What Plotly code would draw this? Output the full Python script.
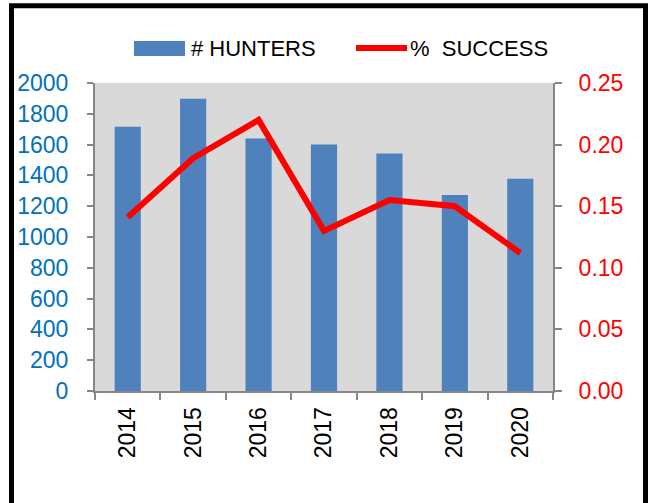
import plotly.graph_objects as go

years = ["2014", "2015", "2016", "2017", "2018", "2019", "2020"]
hunters = [1716, 1897, 1640, 1600, 1542, 1272, 1378]
success = [0.141, 0.189, 0.220, 0.130, 0.155, 0.150, 0.112]
legend_names = ["# HUNTERS", "%  SUCCESS"]

W, H = 648, 503
L, R, T, B = 95, 95, 83, 112
pw, ph = W - L - R, H - T - B

def px2x(px):
    return (px - L) / pw

def py2y(py):
    return (H - B - py) / ph

FONT = "Liberation Sans, Arial, sans-serif"
AXC = "#868686"
BAR_C = "#4F81BD"
LINE_C = "#FF0000"

fig = go.Figure()
fig.add_trace(go.Bar(
    x=years, y=hunters, name=legend_names[0],
    marker=dict(color=BAR_C, line=dict(width=0)),
    yaxis="y", showlegend=False,
))
fig.add_trace(go.Scatter(
    x=years, y=success, name=legend_names[1], mode="lines",
    line=dict(color=LINE_C, width=6),
    yaxis="y2", showlegend=False,
))

legend_y = 48
bx0, bx1, by0, by1 = 11.5, 645.5, 5.8, 520
border = dict(color="black", width=5)
shapes = [
    dict(type="line", xref="paper", yref="paper", layer="above",
         x0=px2x(bx0 - 2.5), x1=px2x(bx1 + 2.5), y0=py2y(by0), y1=py2y(by0), line=border),
    dict(type="line", xref="paper", yref="paper", layer="above",
         x0=px2x(bx0), x1=px2x(bx0), y0=py2y(by0), y1=py2y(by1), line=border),
    dict(type="line", xref="paper", yref="paper", layer="above",
         x0=px2x(bx1), x1=px2x(bx1), y0=py2y(by0), y1=py2y(by1), line=border),
    dict(type="rect", xref="paper", yref="paper",
         x0=px2x(134), x1=px2x(185), y0=py2y(41), y1=py2y(56),
         line=dict(width=0), fillcolor=BAR_C),
    dict(type="line", xref="paper", yref="paper",
         x0=px2x(356), x1=px2x(407), y0=py2y(legend_y), y1=py2y(legend_y),
         line=dict(color=LINE_C, width=6)),
]
annotations = [
    dict(xref="paper", yref="paper", x=px2x(189), y=py2y(legend_y),
         xanchor="left", yanchor="middle", showarrow=False, text=legend_names[0],
         font=dict(family=FONT, size=22, color="black")),
    dict(xref="paper", yref="paper", x=px2x(408), y=py2y(legend_y),
         xanchor="left", yanchor="middle", showarrow=False, text=legend_names[1],
         font=dict(family=FONT, size=22, color="black")),
]

fig.update_layout(
    width=W, height=H,
    margin=dict(l=L, r=R, t=T, b=B),
    paper_bgcolor="white",
    plot_bgcolor="#D9D9D9",
    bargap=0.6,
    font=dict(family=FONT, size=22, color="black"),
    showlegend=False,
    xaxis=dict(
        type="category", tickangle=-90,
        ticks="outside", tickson="boundaries", ticklen=7, tickwidth=2, tickcolor=AXC,
        showline=True, linecolor=AXC, linewidth=2,
        showgrid=False, zeroline=False,
        tickfont=dict(family=FONT, size=23, color="black"),
        ticklabelstandoff=5,
    ),
    yaxis=dict(
        range=[0, 2000], dtick=200, tick0=0,
        ticks="outside", ticklen=6, tickwidth=2, tickcolor=AXC,
        showline=True, linecolor=AXC, linewidth=2,
        showgrid=False, zeroline=False,
        tickfont=dict(family=FONT, size=23, color="#0070C0"),
        ticklabelstandoff=14,
    ),
    yaxis2=dict(
        range=[0, 0.25], dtick=0.05, tick0=0, tickformat=".2f",
        overlaying="y", side="right",
        ticks="outside", ticklen=7, tickwidth=2, tickcolor=AXC,
        showline=True, linecolor=AXC, linewidth=2,
        showgrid=False, zeroline=False,
        tickfont=dict(family=FONT, size=23, color="#FF0000"),
        ticklabelstandoff=12,
    ),
    shapes=shapes,
    annotations=annotations,
)

fig.write_html("out.html", config={"displayModeBar": False},
               post_script="document.body.style.margin='0';")
